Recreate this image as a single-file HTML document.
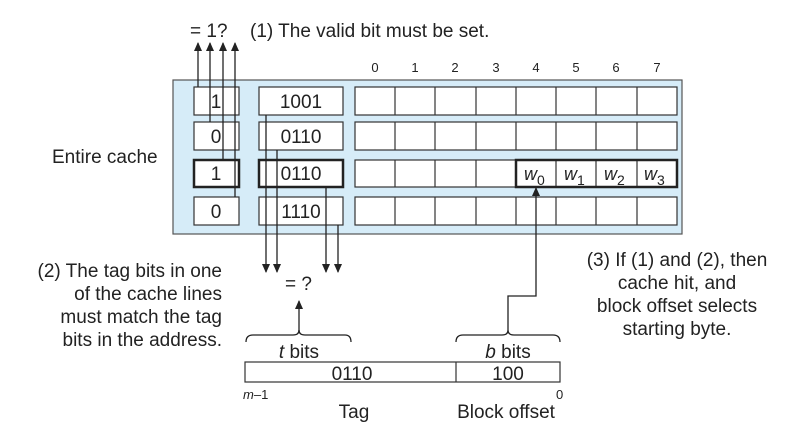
<!DOCTYPE html>
<html><head><meta charset="utf-8"><style>body{margin:0;background:#fff}svg{display:block}text{font-family:"Liberation Sans",sans-serif;fill:#222}</style></head><body>
<svg width="799" height="437" viewBox="0 0 799 437" xmlns="http://www.w3.org/2000/svg">
<defs><marker id="a" markerWidth="9" markerHeight="8" refX="8" refY="4" orient="auto" markerUnits="userSpaceOnUse"><path d="M0,0 L9,4 L0,8 Z" fill="#222"/></marker></defs>
<rect x="173" y="80" width="509" height="154" fill="#d6ecf8" stroke="#555" stroke-width="1.2"/>
<g stroke="#333" stroke-width="1.2" fill="#fff">
<rect x="194" y="87" width="45" height="28"/><rect x="194" y="122" width="45" height="28"/><rect x="194" y="197" width="45" height="28"/>
<rect x="259" y="87" width="84" height="28"/><rect x="259" y="122" width="84" height="28"/><rect x="259" y="197" width="84" height="28"/>
</g>
<g stroke="#222" stroke-width="2.5" fill="#fff"><rect x="194" y="160" width="45" height="27"/><rect x="259" y="160" width="84" height="27"/></g>
<g stroke="#333" stroke-width="1.2" fill="#fff">
<rect x="355" y="87" width="322" height="28"/><rect x="355" y="122" width="322" height="28"/><rect x="355" y="160" width="322" height="27"/><rect x="355" y="197" width="322" height="28"/>
<path d="M395,87v28M435,87v28M476,87v28M516,87v28M556,87v28M596,87v28M637,87v28 M395,122v28M435,122v28M476,122v28M516,122v28M556,122v28M596,122v28M637,122v28 M395,160v27M435,160v27M476,160v27M556,160v27M596,160v27M637,160v27 M395,197v28M435,197v28M476,197v28M516,197v28M556,197v28M596,197v28M637,197v28"/>
</g>
<rect x="516" y="160" width="161" height="27" fill="none" stroke="#222" stroke-width="2.5"/>
<g font-size="19" text-anchor="middle">
<text x="216" y="108">1</text><text x="216" y="143">0</text><text x="216" y="180">1</text><text x="216" y="218">0</text>
<text x="301" y="108">1001</text><text x="301" y="143">0110</text><text x="301" y="180">0110</text><text x="301" y="218">1110</text>
</g>
<g font-size="13" text-anchor="middle">
<text x="375" y="72">0</text><text x="415" y="72">1</text><text x="455" y="72">2</text><text x="496" y="72">3</text><text x="536" y="72">4</text><text x="576" y="72">5</text><text x="616" y="72">6</text><text x="657" y="72">7</text>
</g>
<g font-size="18" font-style="italic">
<text x="524" y="180">w<tspan font-size="14" font-style="normal" dy="5">0</tspan></text>
<text x="564" y="180">w<tspan font-size="14" font-style="normal" dy="5">1</tspan></text>
<text x="604" y="180">w<tspan font-size="14" font-style="normal" dy="5">2</tspan></text>
<text x="644" y="180">w<tspan font-size="14" font-style="normal" dy="5">3</tspan></text>
</g>
<g stroke="#222" stroke-width="1.3" fill="none">
<path d="M198,87V43" marker-end="url(#a)"/><path d="M210,122V43" marker-end="url(#a)"/><path d="M223,160V43" marker-end="url(#a)"/><path d="M235,197V43" marker-end="url(#a)"/>
<path d="M266,115V272" marker-end="url(#a)"/><path d="M277,150V272" marker-end="url(#a)"/><path d="M326,187V272" marker-end="url(#a)"/><path d="M338,225V272" marker-end="url(#a)"/>
<path d="M299,332V301" marker-end="url(#a)"/>
<path d="M508,330V296H536V188" marker-end="url(#a)"/>
<path d="M246,342q0,-7 7,-7h40q6,0 6,-5q0,5 6,5h40q6,0 6,7"/>
<path d="M456,342q0,-7 7,-7h39q6,0 6,-5q0,5 6,5h39q7,0 7,7"/>
</g>
<rect x="245" y="362" width="315" height="20" fill="#fff" stroke="#333" stroke-width="1.2"/>
<line x1="456" y1="362" x2="456" y2="382" stroke="#333" stroke-width="1.2"/>
<g font-size="19">
<text x="190" y="37">= 1?</text>
<text x="250" y="37">(1) The valid bit must be set.</text>
<text x="52" y="163">Entire cache</text>
<text x="285" y="290">= ?</text>
<text x="222" y="277" text-anchor="end">(2) The tag bits in one</text>
<text x="222" y="300" text-anchor="end">of the cache lines</text>
<text x="222" y="323" text-anchor="end">must match the tag</text>
<text x="222" y="346" text-anchor="end">bits in the address.</text>
<text x="677" y="266" text-anchor="middle">(3) If (1) and (2), then</text>
<text x="677" y="289" text-anchor="middle">cache hit, and</text>
<text x="677" y="312" text-anchor="middle">block offset selects</text>
<text x="677" y="335" text-anchor="middle">starting byte.</text>
<text x="299" y="358" text-anchor="middle"><tspan font-style="italic">t</tspan> bits</text>
<text x="508" y="358" text-anchor="middle"><tspan font-style="italic">b</tspan> bits</text>
<text x="352" y="380" text-anchor="middle">0110</text>
<text x="508" y="380" text-anchor="middle">100</text>
<text x="354" y="418" text-anchor="middle">Tag</text>
<text x="506" y="418" text-anchor="middle">Block offset</text>
</g>
<text x="243" y="399" font-size="13" font-style="italic">m<tspan font-style="normal">–1</tspan></text>
<text x="556" y="399" font-size="13">0</text>
</svg>
</body></html>
